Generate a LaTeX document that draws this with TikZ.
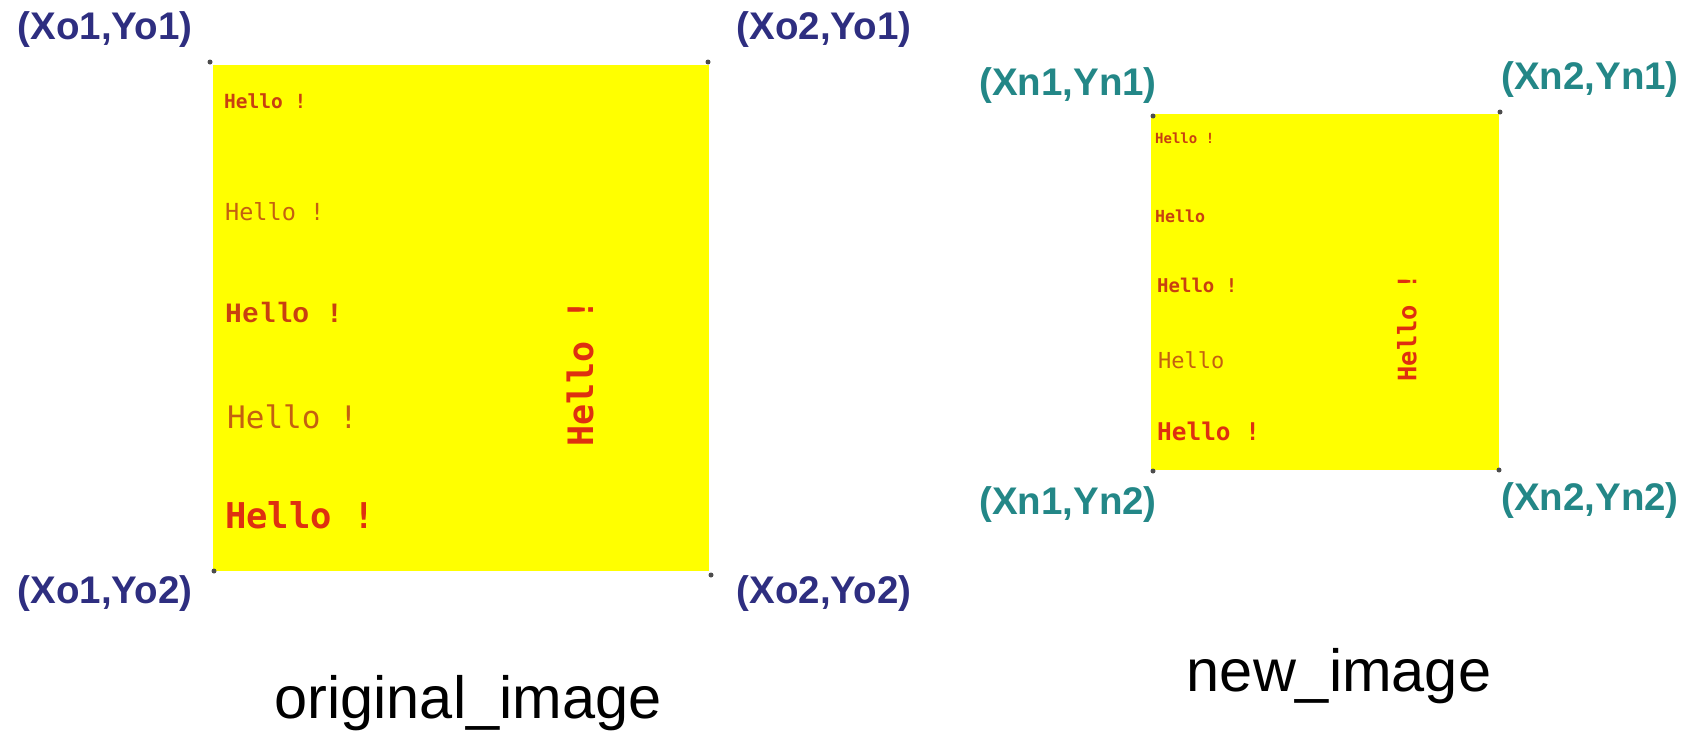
\documentclass[tikz,border=0pt]{standalone}
\usepackage{fontspec}
\setmainfont{Liberation Sans}
\newfontfamily\sansmono{DejaVu Sans Mono}
\newfontfamily\slabmono{Liberation Mono}

\definecolor{navy}{RGB}{46,46,128}
\definecolor{tealish}{RGB}{35,135,135}
\definecolor{helloRed}{RGB}{222,48,16}
\definecolor{helloDark}{RGB}{200,64,16}
\definecolor{helloBrown}{RGB}{196,96,16}
\definecolor{sheet}{RGB}{255,255,0}

\tikzset{
  corner/.style={font=\bfseries\fontsize{38.5}{40}\selectfont, inner sep=0pt, anchor=center},
  oldcorner/.style={corner, text=navy},
  newcorner/.style={corner, text=tealish},
  caption/.style={font=\fontsize{59.5}{62}\selectfont, inner sep=0pt, anchor=base},
  hello/.style={inner sep=0pt, anchor=base west},
  upright/.style={inner sep=0pt, anchor=center, rotate=90},
  pin/.style={circle, fill=black!70, inner sep=0pt, minimum size=5pt},
}

\begin{document}
\begin{tikzpicture}[x=1pt, y=-1pt]
\useasboundingbox (0,0) rectangle (1700,731);

% ---------- original image ----------
\fill[sheet] (213,65) rectangle (709,571);
\node[pin] (o11) at (210,62) {};
\node[pin] (o21) at (708,62) {};
\node[pin] (o12) at (214,571) {};
\node[pin] (o22) at (711,575) {};

\node[oldcorner] (lo11) at (105,30)  {(Xo1,Yo1)};
\node[oldcorner] (lo21) at (824,30)  {(Xo2,Yo1)};
\node[oldcorner] (lo12) at (105,594) {(Xo1,Yo2)};
\node[oldcorner] (lo22) at (824,594) {(Xo2,Yo2)};

\node[hello, text=helloDark,  font=\sansmono\bfseries\fontsize{19.5}{20}\selectfont] (oh1) at (224,108) {Hello !};
\node[hello, text=helloBrown, font=\sansmono\fontsize{23.5}{24}\selectfont]          (oh2) at (225,220) {Hello !};
\node[hello, text=helloDark,  font=\slabmono\bfseries\fontsize{28}{30}\selectfont]   (oh3) at (225,322) {Hello !};
\node[hello, text=helloBrown, font=\sansmono\fontsize{31}{32}\selectfont]            (oh4) at (227,428) {Hello !};
\node[hello, text=helloRed,   font=\sansmono\bfseries\fontsize{35.5}{36}\selectfont] (oh5) at (225,528) {Hello !};
\node[upright, text=helloRed, font=\sansmono\bfseries\fontsize{35}{36}\selectfont]   (ohr) at (580,373) {Hello !};

\node[caption] (ocap) at (468,718) {original\_image};

% ---------- new image ----------
\fill[sheet] (1151,114) rectangle (1499,470);
\node[pin] (n11) at (1153,116) {};
\node[pin] (n21) at (1500,112) {};
\node[pin] (n12) at (1153,471) {};
\node[pin] (n22) at (1499,470) {};

\node[newcorner] (ln11) at (1068,86)  {(Xn1,Yn1)};
\node[newcorner] (ln21) at (1590,80)  {(Xn2,Yn1)};
\node[newcorner] (ln12) at (1068,505) {(Xn1,Yn2)};
\node[newcorner] (ln22) at (1590,501) {(Xn2,Yn2)};

\node[hello, text=helloDark,  font=\sansmono\bfseries\fontsize{14}{15}\selectfont]   (nh1) at (1155,143) {Hello !};
\node[hello, text=helloDark,  font=\sansmono\bfseries\fontsize{16.6}{17}\selectfont] (nh2) at (1155,222) {Hello};
\node[hello, text=helloDark,  font=\sansmono\bfseries\fontsize{19}{20}\selectfont]   (nh3) at (1157,292) {Hello !};
\node[hello, text=helloBrown, font=\sansmono\fontsize{22}{23}\selectfont]            (nh4) at (1158,368) {Hello};
\node[hello, text=helloRed,   font=\sansmono\bfseries\fontsize{24.4}{25}\selectfont] (nh5) at (1157,440) {Hello !};
\node[upright, text=helloRed, font=\sansmono\bfseries\fontsize{25.4}{26}\selectfont] (nhr) at (1407,328) {Hello !};

\node[caption] (ncap) at (1339,691) {new\_image};
\end{tikzpicture}
\end{document}
